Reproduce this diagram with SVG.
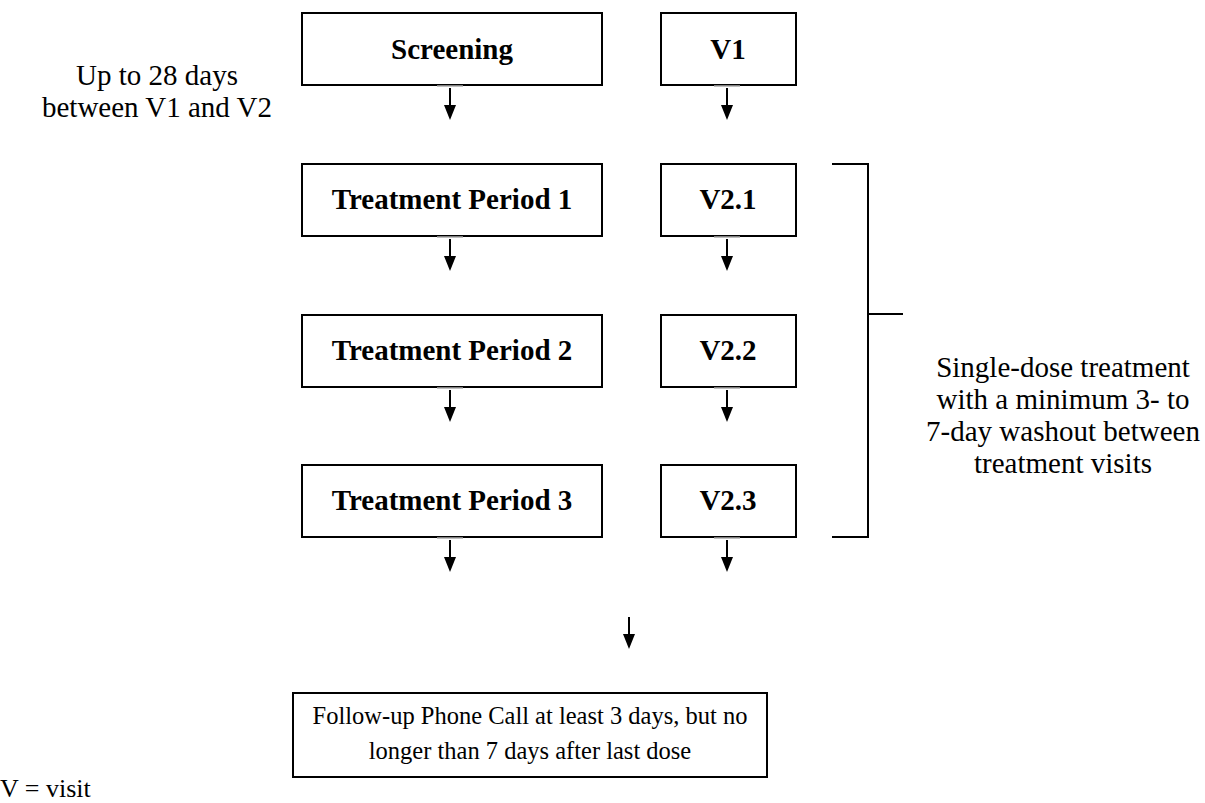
<svg xmlns="http://www.w3.org/2000/svg" width="1205" height="803" viewBox="0 0 1205 803">
<style>
.box{fill:#fff;stroke:#000;stroke-width:2}
.bt{font-family:"Liberation Serif","Times New Roman",serif;font-weight:bold;font-size:29px;text-anchor:middle;fill:#000}
.rt{font-family:"Liberation Serif","Times New Roman",serif;font-size:29px;text-anchor:middle;fill:#000}
.stem{stroke:#000;stroke-width:2;fill:none}
.tick{stroke:#aaa;stroke-width:1.5}
.br{stroke:#000;stroke-width:2;fill:none}
</style>
<defs>
<g id="arrowShape">
<line class="tick" x1="-13" y1="0" x2="13" y2="0"/>
<line class="stem" x1="0" y1="2" x2="0" y2="20"/>
<path d="M-6,19 L6,19 L0,34 Z" fill="#000"/>
</g>
<g id="arrowNoTick">
<line class="stem" x1="0" y1="0" x2="0" y2="18"/>
<path d="M-6,17 L6,17 L0,32 Z" fill="#000"/>
</g>
</defs>
<rect width="1205" height="803" fill="#fff"/>

<g id="screening"><rect class="box" x="302" y="13" width="300" height="72"/><text class="bt" x="452" y="59">Screening</text></g>
<g id="v1"><rect class="box" x="661" y="13" width="135" height="72"/><text class="bt" x="728" y="59">V1</text></g>
<g id="tp1"><rect class="box" x="302" y="164" width="300" height="72"/><text class="bt" x="452" y="209">Treatment Period 1</text></g>
<g id="v21"><rect class="box" x="661" y="164" width="135" height="72"/><text class="bt" x="728" y="209">V2.1</text></g>
<g id="tp2"><rect class="box" x="302" y="315" width="300" height="72"/><text class="bt" x="452" y="360">Treatment Period 2</text></g>
<g id="v22"><rect class="box" x="661" y="315" width="135" height="72"/><text class="bt" x="728" y="360">V2.2</text></g>
<g id="tp3"><rect class="box" x="302" y="465" width="300" height="72"/><text class="bt" x="452" y="510">Treatment Period 3</text></g>
<g id="v23"><rect class="box" x="661" y="465" width="135" height="72"/><text class="bt" x="728" y="510">V2.3</text></g>
<g id="followup"><rect class="box" x="293" y="693" width="474" height="84"/>
<text class="rt" x="530" y="724" style="font-size:24.5px">Follow-up Phone Call at least 3 days, but no</text>
<text class="rt" x="530" y="759" style="font-size:24.5px">longer than 7 days after last dose</text></g>

<g id="note-left"><text class="rt" x="157" y="85">Up to 28 days</text><text class="rt" x="157" y="117">between V1 and V2</text></g>
<g id="note-right">
<text class="rt" x="1063" y="377">Single-dose treatment</text>
<text class="rt" x="1063" y="409">with a minimum 3- to</text>
<text class="rt" x="1063" y="441">7-day washout between</text>
<text class="rt" x="1063" y="473">treatment visits</text></g>
<g id="legend"><text class="rt" x="0" y="797" style="text-anchor:start;font-size:26px">V = visit</text></g>

<g id="connectors">
<use href="#arrowShape" x="450" y="86"/>
<use href="#arrowShape" x="727" y="86"/>
<use href="#arrowShape" x="450" y="237"/>
<use href="#arrowShape" x="727" y="237"/>
<use href="#arrowShape" x="450" y="388"/>
<use href="#arrowShape" x="727" y="388"/>
<use href="#arrowShape" x="450" y="538"/>
<use href="#arrowShape" x="727" y="538"/>
<use href="#arrowNoTick" x="629" y="617"/>
<path class="br" d="M832,164 H868 V537 H832 M868,314 H903"/>
</g>
</svg>
